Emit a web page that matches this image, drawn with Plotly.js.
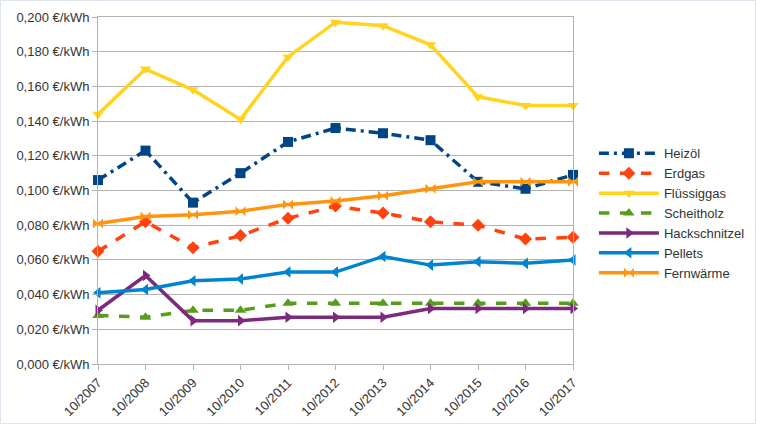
<!DOCTYPE html>
<html><head><meta charset="utf-8">
<script src="https://cdn.plot.ly/plotly-3.0.1.min.js"></script>
<style>html,body{margin:0;padding:0;background:#fff}#c{width:757px;height:426px}</style>
</head><body><div id="c"></div>
<script>
const categories = ["10/2007","10/2008","10/2009","10/2010","10/2011","10/2012","10/2013","10/2014","10/2015","10/2016","10/2017"];
const heizoel = [0.106,0.123,0.093,0.110,0.128,0.136,0.133,0.129,0.105,0.101,0.109];
const erdgas = [0.065,0.082,0.067,0.074,0.084,0.091,0.087,0.082,0.080,0.072,0.073];
const fluessiggas = [0.144,0.170,0.158,0.141,0.177,0.197,0.195,0.184,0.154,0.149,0.149];
const scheitholz = [0.028,0.027,0.031,0.031,0.035,0.035,0.035,0.035,0.035,0.035,0.035];
const hackschnitzel = [0.031,0.051,0.025,0.025,0.027,0.027,0.027,0.032,0.032,0.032,0.032];
const pellets = [0.041,0.043,0.048,0.049,0.053,0.053,0.062,0.057,0.059,0.058,0.060];
const fernwaerme = [0.081,0.085,0.086,0.088,0.092,0.094,0.097,0.101,0.105,0.105,0.105];
const yTickVals = [0,0.02,0.04,0.06,0.08,0.1,0.12,0.14,0.16,0.18,0.2];
const yTickText = ["0,000 €/kWh","0,020 €/kWh","0,040 €/kWh","0,060 €/kWh","0,080 €/kWh","0,100 €/kWh","0,120 €/kWh","0,140 €/kWh","0,160 €/kWh","0,180 €/kWh","0,200 €/kWh"];

function tr(name, y, color, dash, symbol){
  return {type:'scatter', mode:'lines+markers', name:name, x:categories, y:y,
    line:{color:color, width:3.5, dash:dash},
    marker:{color:color, symbol:symbol, size:10, line:{width:0}}, cliponaxis:false};
}
const data = [
  tr("Heizöl", heizoel, "#004586", "10px,5px,3px,5px", "square"),
  tr("Erdgas", erdgas, "#ff420e", "dash", "diamond"),
  tr("Flüssiggas", fluessiggas, "#ffd320", "solid", "triangle-down"),
  tr("Scheitholz", scheitholz, "#579d1c", "dash", "triangle-up"),
  tr("Hackschnitzel", hackschnitzel, "#7b2a7d", "solid", "triangle-right"),
  tr("Pellets", pellets, "#0084d1", "solid", "triangle-left"),
  tr("Fernwärme", fernwaerme, "#ff950e", "solid", "bowtie")
];
const px = p => (p-98)/475, py = p => (364-p)/347;
const layout = {
  width:757, height:426,
  margin:{l:98, r:184, t:17, b:62, autoexpand:false},
  paper_bgcolor:'#fff', plot_bgcolor:'#fff',
  font:{family:'"Liberation Sans", Arial, sans-serif', size:13, color:'#333'},
  showlegend:true,
  legend:{x:1.044, xanchor:'left', y:0.434, yanchor:'middle', tracegroupgap:0, itemwidth:60,
    font:{size:13, color:'#333'}, bgcolor:'rgba(0,0,0,0)'},
  shapes:[{type:'rect', xref:'paper', yref:'paper', x0:px(0.5), x1:px(755.5), y0:py(423.5), y1:py(0.5),
    line:{color:'#dde5ee', width:1}, fillcolor:'rgba(0,0,0,0)', layer:'below'}],
  xaxis:{type:'category', tickvals:categories, ticktext:categories, tickangle:-45,
    showgrid:false, showline:true, linecolor:'#b3b3b3', linewidth:1, mirror:true,
    ticks:'outside', ticklen:5, tickcolor:'#b3b3b3', range:[0,10], automargin:false,
    tickfont:{size:13, color:'#333'}},
  yaxis:{range:[0,0.2], tickvals:yTickVals, ticktext:yTickText, showgrid:true, automargin:false,
    gridcolor:'#b3b3b3', gridwidth:1, showline:true, linecolor:'#b3b3b3', linewidth:1, mirror:true,
    ticks:'outside', ticklen:5, tickcolor:'#b3b3b3', zeroline:false,
    tickfont:{size:13, color:'#333'}}
};
Plotly.newPlot('c', data, layout, {displayModeBar:false, staticPlot:true});
</script>
</body></html>
